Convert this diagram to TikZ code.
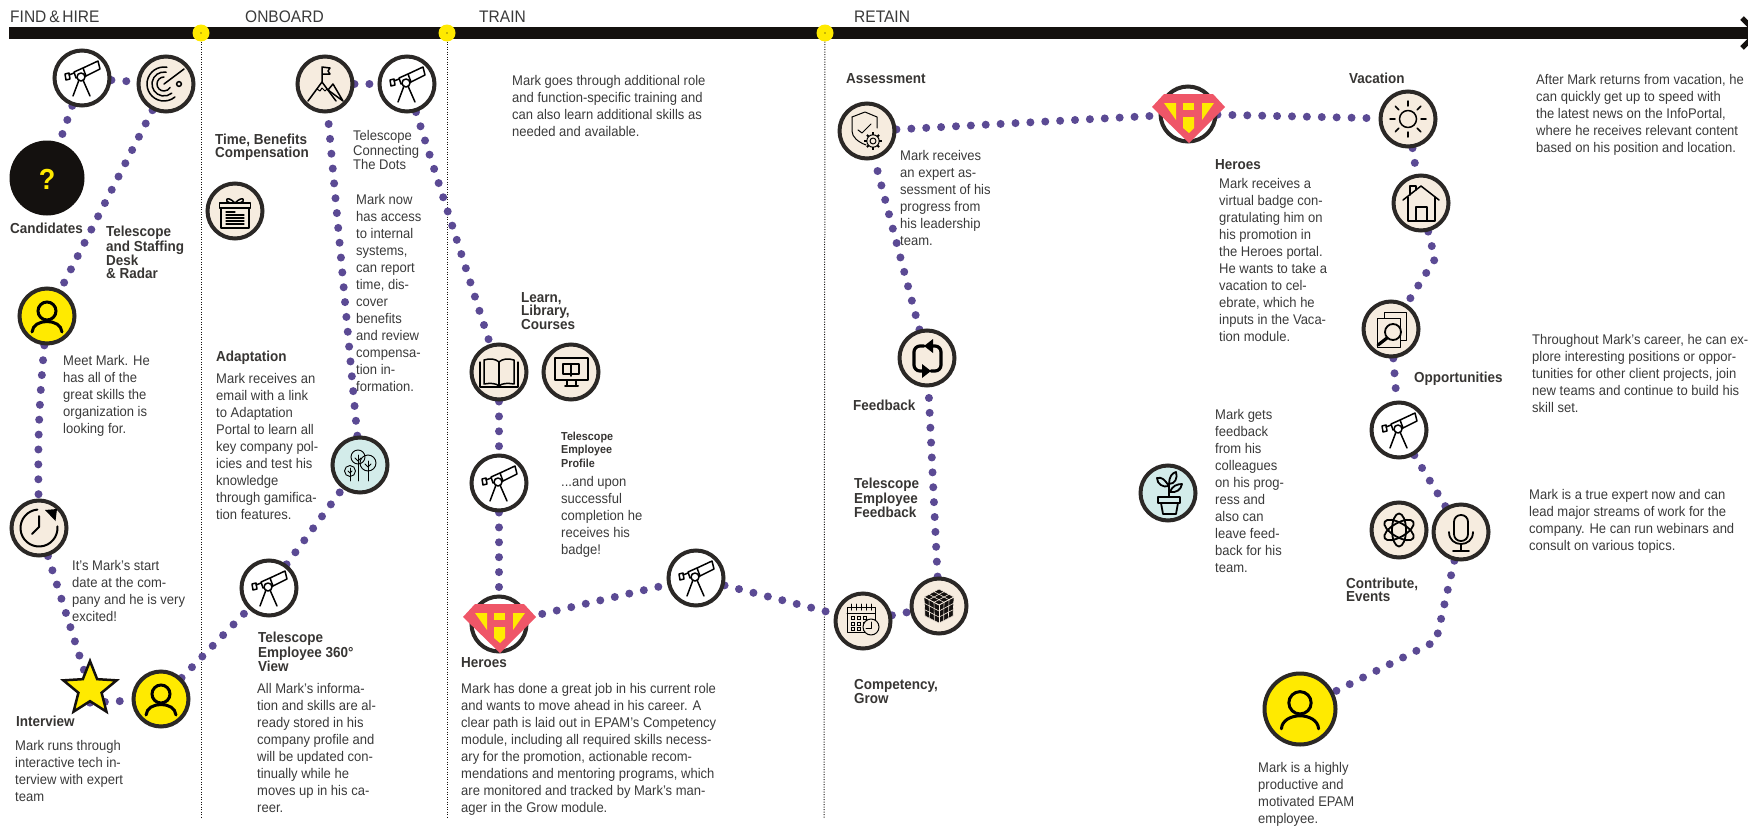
\documentclass[tikz,border=0pt]{standalone}
\usepackage{fontspec}
\setmainfont[FakeStretch=0.93]{Liberation Sans}
\usetikzlibrary{shapes.geometric,backgrounds}
\definecolor{markYellow}{HTML}{FFEA00}
\definecolor{markCream}{HTML}{F6ECDF}
\definecolor{markTeal}{HTML}{D3ECEA}
\definecolor{markInk}{HTML}{14110F}
\definecolor{markRing}{HTML}{2B2826}
\definecolor{markText}{HTML}{3A3A3A}
\definecolor{markPurple}{HTML}{5B4A94}
\definecolor{markRed}{HTML}{EF5668}
\tikzset{
  ring/.style={circle,draw=markRing,line width=4pt,minimum size=55pt,inner sep=0pt,fill=white},
  cream/.style={ring,fill=markCream},
  teal/.style={ring,fill=markTeal},
  gold/.style={ring,fill=markYellow},
  body/.style={anchor=north west,inner sep=0pt,align=left,text=markText,font=\fontsize{14}{17}\selectfont},
  head/.style={anchor=north west,inner sep=0pt,align=left,text=markInk!85!white,font=\bfseries\fontsize{14.5}{13}\selectfont},
  stage/.style={anchor=base west,inner sep=0pt,text=markText,font=\fontsize{16.7}{18}\selectfont},
  milestone/.style={circle,fill=markYellow,minimum size=17pt,inner sep=0pt},
  trail/.style={draw=markPurple,line width=8pt,line cap=round,dash pattern=on 0pt off 14.9pt},
  fence/.style={draw=markInk,line width=1pt,dash pattern=on 1pt off 1.5pt},
  icon/.style={line width=1.5pt,line cap=round,line join=round},
  pics/telescope/.style={code={
    \draw[icon] (1,-10) -- (16,-17) -- (18,-9) -- (4,-2) -- cycle;
    \draw[icon] (1,-10) -- (-8,-6) -- (-6,0) -- (4,-2);
    \draw[icon] (-17,-4) -- (-13,-5) -- (-12,1) -- (-16,2) -- cycle;
    \draw[icon] (-13,-3) -- (-8,-5);
    \draw[icon,fill=white] (-1,-1) circle[radius=4pt];
    \draw[icon] (-3,2) -- (-9,18);
    \draw[icon] (1,2) -- (8,18);
  }},
  pics/radar/.style={code={
    \draw[icon] ([shift={(80:17pt)}]-2,0) arc[start angle=80,end angle=310,radius=17pt];
    \draw[icon] ([shift={(80:12pt)}]-2,0) arc[start angle=80,end angle=310,radius=12pt];
    \draw[icon] ([shift={(90:7pt)}]-2,0) arc[start angle=90,end angle=330,radius=7pt];
    \draw[icon] (-2,0) -- (18,-15);
    \draw[icon] (13,0) circle[radius=2.4pt];
  }},
  pics/person/.style={code={
    \draw[line width=3pt,line cap=round] (0,-5) circle[radius=9pt];
    \draw[line width=3pt,line cap=round] (-15,16) .. controls (-14,2) and (14,2) .. (15,16);
  }},
  pics/clock/.style={code={
    \draw[icon,line width=2pt] ([shift={(95:18.5pt)}]0,0) arc[start angle=95,end angle=365,radius=18.5pt];
    \draw[icon,line width=2pt] (0,-12) -- (0,-1) -- (-7,6);
    \fill (6,-18) -- (18,-19) -- (16.5,-7) -- cycle;
  }},
  pics/question/.style={code={
    \node[inner sep=0pt,text=markYellow,font=\bfseries\fontsize{29}{29}\selectfont] (Ask) at (0,1) {?};
  }},
  pics/gift/.style={code={
    \draw[icon] (-14,-3) rectangle (14,17);
    \draw[icon] (-15.5,-8) rectangle (15.5,-3);
    \draw[icon] (0,-8) .. controls (-9,-17) and (-11,-9) .. (-5,-8);
    \draw[icon] (0,-8) .. controls (9,-17) and (11,-9) .. (5,-8);
    \draw[icon,line width=1.2pt] (-9,1) -- (0,1);
    \foreach \y in {4,7,10,13} {\draw[icon,line width=1.2pt] (-9,\y) -- (9,\y);}
  }},
  pics/mountain/.style={code={
    \draw[icon] (-17,17) -- (-3,-2) -- (11,17);
    \draw[icon] (3,6) -- (8,0) -- (18,17) -- cycle;
    \draw[icon] (-3,-2) -- (-3,-17) -- (5,-16) -- (3,-13) -- (5,-10) -- (-3,-10);
    \draw[icon,line width=1pt] (-8,5) -- (-5,7) -- (-3,4) -- (0,7) -- (2,5);
  }},
  pics/trees/.style={code={
    \draw[icon,line width=.9pt] (-2,-8) circle[radius=7pt];
    \draw[icon,line width=.9pt] (8,-2) circle[radius=8pt];
    \draw[icon,line width=.9pt] (-10,6) circle[radius=5.5pt];
    \draw[icon,line width=.9pt] (-2,-10) -- (-2,16);
    \draw[icon,line width=.9pt] (8,-4) -- (8,16);
    \draw[icon,line width=.9pt] (-10,3) -- (-10,16);
    \draw[icon,line width=.9pt] (-5,-7) -- (-2,-4) -- (1,-7);
    \draw[icon,line width=.9pt] (5,-1) -- (8,2) -- (11,-1);
    \draw[icon,line width=.9pt] (-12,6) -- (-10,8) -- (-8,6);
  }},
  pics/book/.style={code={
    \draw[icon,line width=1.2pt] (-19,-10) -- (-19,15) -- (19,15) -- (19,-10);
    \draw[icon] (-15,-12) .. controls (-9,-14) and (-3,-13) .. (0,-10) .. controls (3,-13) and (9,-14) .. (15,-12) -- (15,12) .. controls (9,11) and (3,11) .. (0,14) .. controls (-3,11) and (-9,11) .. (-15,12) -- cycle;
    \draw[icon] (0,-10) -- (0,14);
  }},
  pics/monitor/.style={code={
    \draw[icon,line width=2pt] (-16.5,-14) rectangle (17,8);
    \draw[icon,line width=2pt] (-4,8) -- (-4,14);
    \draw[icon,line width=2pt] (5,8) -- (5,14);
    \draw[icon,line width=2pt] (-6,14) -- (7,14);
    \draw[icon,line width=1.6pt] (-8,-8) rectangle (8,2);
    \draw[icon,line width=1.6pt] (0,-8) -- (0,4);
  }},
  pics/shield/.style={code={
    \draw[icon,line width=1pt] (-15,-14) -- (-2,-19) -- (10,-14) -- (10,-3);
    \draw[icon,line width=1pt] (-15,-14) -- (-15,0) .. controls (-15,6) and (-9,11) .. (-1,14);
    \draw[icon,line width=1pt] (-9,-1) -- (-5,2) -- (4,-7);
    \draw[icon,line width=1pt,fill=markCream] (6,10) circle[radius=6.2pt];
    \draw[icon,line width=1pt] (6,10) circle[radius=3pt];
    \foreach \a in {0,45,...,315} {\draw[line width=1.9pt,shift={(6,10)}] (\a:6.2pt) -- (\a:8.6pt);}
  }},
  pics/sync/.style={code={
    \draw[line width=3.2pt,line cap=round,rounded corners=6pt] (-3,-12) -- (-13,-12) -- (-13,13) -- (-3,13);
    \draw[line width=3.2pt,line cap=round,rounded corners=6pt] (3,-12) -- (14,-12) -- (14,13) -- (4,13);
    \fill (6,-19) -- (-3,-12) -- (6,-5) -- cycle;
    \fill (-5,6) -- (4,13) -- (-5,20) -- cycle;
  }},
  pics/calendar/.style={code={
    \draw[icon,line width=1pt] (-16,-14) rectangle (12,11);
    \draw[icon,line width=1pt] (-16,-8) -- (12,-8);
    \foreach \x in {-12,-7,-2,3,8} {\draw[icon,line width=1pt] (\x,-17) -- (\x,-11);}
    \foreach \x in {-12,-6,0} \foreach \y in {-5,1,6} {\draw[line width=.9pt] (\x,\y) rectangle ++(3,3);}
    \draw[icon,line width=1pt,fill=markCream] (8,6) circle[radius=8pt];
    \draw[icon,line width=1pt] (8,1) -- (8,7) -- (3,7);
  }},
  pics/cube/.style={code={
    \fill[markInk] (0,-17) -- (15,-9) -- (14,10) -- (0,17) -- (-14,10) -- (-15,-9) -- cycle;
    \foreach \t in {0,.333,.667,1} {
      \draw[markCream,line width=.6pt] ({-15+15*\t},{-9+8*\t}) -- ({0+15*\t},{-17+8*\t});
      \draw[markCream,line width=.6pt] ({-15+15*\t},{-9-8*\t}) -- ({0+15*\t},{-1-8*\t});
      \draw[markCream,line width=.6pt] ({-15+15*\t},{-9+8*\t}) -- ({-14+14*\t},{10+7*\t});
      \draw[markCream,line width=.6pt] ({0+15*\t},{-1-8*\t}) -- ({0+14*\t},{17-7*\t});
      \draw[markCream,line width=.6pt] ({-15+1*\t},{-9+19*\t}) -- ({0},{-1+18*\t});
      \draw[markCream,line width=.6pt] ({0},{-1+18*\t}) -- ({15-1*\t},{-9+19*\t});
    }
  }},
  pics/sun/.style={code={
    \draw[icon] (0,0) circle[radius=8.5pt];
    \foreach \a in {0,45,...,315} {\draw[icon] (\a:13pt) -- (\a:18pt);}
  }},
  pics/house/.style={code={
    \draw[icon] (-18,-3) -- (0,-17) -- (18,-3);
    \draw[icon] (-13,-6) -- (-13,18) -- (14,18) -- (14,-6);
    \draw[icon] (-5,18) -- (-5,4) -- (6,4) -- (6,18);
    \draw[icon] (-11,-8) -- (-11,-17) -- (-5,-17) -- (-5,-13);
  }},
  pics/docs/.style={code={
    \draw[icon,line width=1pt] (-7,-17) rectangle (15,11);
    \draw[icon,line width=1pt,fill=markCream] (-14,-11) rectangle (9,18);
    \draw[icon,fill=markCream,line width=1.8pt] (2,3) circle[radius=8pt];
    \draw[line width=3.2pt,line cap=round] (-4,9) -- (-13,16);
  }},
  pics/atom/.style={code={
    \draw[icon,line width=1.8pt,rotate=30] (0,0) ellipse[x radius=16.5pt,y radius=7pt];
    \draw[icon,line width=1.8pt,rotate=90] (0,0) ellipse[x radius=16.5pt,y radius=7pt];
    \draw[icon,line width=1.8pt,rotate=150] (0,0) ellipse[x radius=16.5pt,y radius=7pt];
  }},
  pics/mic/.style={code={
    \draw[icon,line width=1.8pt,rounded corners=6.8pt] (-7,-17) rectangle (7,9);
    \draw[icon,line width=1.8pt] (-12,0) .. controls (-12,16) and (12,16) .. (12,0);
    \draw[icon,line width=1.8pt] (0,12) -- (0,19);
    \draw[icon,line width=1.8pt] (-8,19) -- (8,19);
  }},
  pics/plant/.style={code={
    \draw[icon,line width=1.8pt] (-10,4) rectangle (12,10);
    \draw[icon,line width=1.8pt] (-7,10) -- (-5,21) -- (8,21) -- (10,10);
    \draw[icon,line width=1.8pt] (1,4) -- (1,-9);
    \draw[icon,line width=1.8pt] (1,-7) .. controls (-4,-14) and (-6,-16) .. (-11,-15) .. controls (-11,-9) and (-5,-5) .. (1,-7);
    \draw[icon,line width=1.8pt] (1,-9) .. controls (1,-16) and (4,-20) .. (8,-21) .. controls (10,-15) and (7,-9) .. (1,-9);
    \draw[icon,line width=1.8pt] (2,-1) .. controls (4,-7) and (9,-9) .. (14,-9) .. controls (13,-3) and (8,0) .. (2,-1);
  }},
  pics/badge/.style={code={
    \fill[markRed] (-36,-7) -- (-24,-20) -- (25,-20) -- (37,-7) -- (1,29) -- cycle;
    \fill[markYellow] (-24,-11) -- (-12,-11) -- (-12,6) -- cycle;
    \fill[markYellow] (14,-11) -- (26,-11) -- (14,6) -- cycle;
    \fill[markYellow] (-5,-11) rectangle (6,-4);
    \fill[markYellow] (-5,3) -- (6,3) -- (6,14) -- (1,19) -- (-5,14) -- cycle;
  }},
}

\begin{document}
\begin{tikzpicture}[x=1pt,y=-1pt]
  \useasboundingbox (0,0) rectangle (1748,827);

  \coordinate (BarL) at (9,33);
  \coordinate (BarR) at (1748,33);
  \draw[draw=markInk,line width=12pt] (BarL) -- (BarR);
  \draw[draw=markInk,line width=5pt] (1742,18) -- (1757,33) -- (1742,48);

  \node[milestone] (M1) at (201,33) {};
  \node[milestone] (M2) at (447,33) {};
  \node[milestone] (M3) at (825,33) {};
  \coordinate (B1) at (201,818);
  \coordinate (B2) at (447,818);
  \coordinate (B3) at (824,818);
  \foreach \m in {M1,M2,M3} {\fill[markInk] (\m) circle[radius=.7pt];}

  \node[stage] (FindL) at (10,22) {FIND\hspace{.17em}\&\hspace{.17em}HIRE};
  \node[stage] (BoardL) at (245,22) {ONBOARD};
  \node[stage] (TrainL) at (479,22) {TRAIN};
  \node[stage] (KeepL) at (854,22) {RETAIN};

  \node[ring] (Tel1) at (82,78) {};
  \node[cream] (Radar) at (166,84) {};
  \node[circle,fill=markInk,minimum size=75pt,inner sep=0pt] (Cand) at (47,178) {};
  \node[gold] (Mark1) at (47,316) {};
  \node[cream] (Clock) at (39,528) {};
  \node[star,star points=5,star point ratio=2.3,draw=markInk,fill=markYellow,line width=2.5pt,minimum size=56pt,inner sep=0pt] (Star) at (90,689) {};
  \node[gold] (Mark2) at (161,699) {};
  \node[ring] (Tel2) at (269,588) {};
  \node[teal] (Trees) at (360,465) {};
  \node[cream] (Gift) at (235,211) {};
  \node[cream] (Peak) at (325,84) {};
  \node[ring] (Tel3) at (407,84) {};
  \node[cream] (Book) at (499,372) {};
  \node[cream] (Screen) at (571,372) {};
  \node[ring] (Tel4) at (499,483) {};
  \node[ring] (Hero1) at (499,624) {};
  \node[ring] (Tel5) at (696,578) {};
  \node[cream] (Cal) at (863,621) {};
  \node[cream] (Cube) at (939,606) {};
  \node[cream] (Sync) at (927,358) {};
  \node[cream] (Shield) at (867,131) {};
  \node[ring] (Hero2) at (1188,114) {};
  \node[cream] (Sun) at (1408,119) {};
  \node[cream] (House) at (1421,203) {};
  \node[cream] (Docs) at (1391,329) {};
  \node[ring] (Tel6) at (1399,430) {};
  \node[cream] (Atom) at (1399,530) {};
  \node[cream] (Mic) at (1461,532) {};
  \node[gold,minimum size=71pt] (Mark3) at (1300,709) {};
  \node[teal] (Plant) at (1168,493) {};

  \pic at (Tel1) {telescope};
  \pic at (Radar) {radar};
  \pic at (Cand) {question};
  \pic at (Mark1) {person};
  \pic at (Clock) {clock};
  \pic at (Mark2) {person};
  \pic at (Tel2) {telescope};
  \pic at (Trees) {trees};
  \pic at (Gift) {gift};
  \pic at (Peak) {mountain};
  \pic at (Tel3) {telescope};
  \pic at (Book) {book};
  \pic at (Screen) {monitor};
  \pic at (Tel4) {telescope};
  \pic at (Hero1) {badge};
  \pic at (Tel5) {telescope};
  \pic at (Cal) {calendar};
  \pic at (Cube) {cube};
  \pic at (Sync) {sync};
  \pic at (Shield) {shield};
  \pic at (Hero2) {badge};
  \pic at (Sun) {sun};
  \pic at (House) {house};
  \pic at (Docs) {docs};
  \pic at (Tel6) {telescope};
  \pic at (Atom) {atom};
  \pic at (Mic) {mic};
  \pic[scale=1.24] at (Mark3) {person};
  \pic at (Plant) {plant};

  \node[head] (CandL) at (10,223) {Candidates};
  \node[head] (DeskL) at (106,226) {Telescope\\and Staffing\\Desk\\\& Radar};
  \node[body] (MeetT) at (63,355) {Meet Mark. He\\has all of the\\great skills the\\organization is\\looking for.};
  \node[body] (StartT) at (72,560) {It’s Mark’s start\\date at the com-\\pany and he is very\\excited!};
  \node[head] (TalkL) at (16,716) {Interview};
  \node[body] (TalkT) at (15,740) {Mark runs through\\interactive tech in-\\terview with expert\\team};
  \node[head] (TimeL) at (215,134) {Time, Benefits\\Compensation};
  \node[head] (AdaptL) at (216,351) {Adaptation};
  \node[body] (AdaptT) at (216,373) {Mark receives an\\email with a link\\to Adaptation\\Portal to learn all\\key company pol-\\icies and test his\\knowledge\\through gamifica-\\tion features.};
  \node[head] (ViewL) at (258,632) {Telescope\\Employee 360°\\View};
  \node[body] (ViewT) at (257,683) {All Mark’s informa-\\tion and skills are al-\\ready stored in his\\company profile and\\will be updated con-\\tinually while he\\moves up in his ca-\\reer.};
  \node[body,font=\fontsize{14}{14.7}\selectfont] (DotsL) at (353,130) {Telescope\\Connecting\\The Dots};
  \node[body] (DotsT) at (356,194) {Mark now\\has access\\to internal\\systems,\\can report\\time, dis-\\cover\\benefits\\and review\\compensa-\\tion in-\\formation.};
  \node[body] (RoleT) at (512,75) {Mark goes through additional role\\and function-specific training and\\can also learn additional skills as\\needed and available.};
  \node[head] (LearnL) at (521,292) {Learn,\\Library,\\Courses};
  \node[head,font=\bfseries\fontsize{11.6}{13.3}\selectfont] (ProfileL) at (561,432) {Telescope\\Employee\\Profile};
  \node[body] (ProfileT) at (561,476) {...and upon\\successful\\completion he\\receives his\\badge!};
  \node[head] (Hero1L) at (461,657) {Heroes};
  \node[body] (Hero1T) at (461,683) {Mark has done a great job in his current role\\and wants to move ahead in his career. A\\clear path is laid out in EPAM’s Competency\\module, including all required skills necess-\\ary for the promotion, actionable recom-\\mendations and mentoring programs, which\\are monitored and tracked by Mark’s man-\\ager in the Grow module.};
  \node[head] (AssessL) at (846,73) {Assessment};
  \node[body] (AssessT) at (900,150) {Mark receives\\an expert as-\\sessment of his\\progress from\\his leadership\\team.};
  \node[head] (BackL) at (853,400) {Feedback};
  \node[head] (PeerL) at (854,478) {Telescope\\Employee\\Feedback};
  \node[head] (GrowL) at (854,679) {Competency,\\Grow};
  \node[head] (Hero2L) at (1215,159) {Heroes};
  \node[body] (Hero2T) at (1219,178) {Mark receives a\\virtual badge con-\\gratulating him on\\his promotion in\\the Heroes portal.\\He wants to take a\\vacation to cel-\\ebrate, which he\\inputs in the Vaca-\\tion module.};
  \node[body] (PeerT) at (1215,409) {Mark gets\\feedback\\from his\\colleagues\\on his prog-\\ress and\\also can\\leave feed-\\back for his\\team.};
  \node[head] (RestL) at (1349,73) {Vacation};
  \node[body] (RestT) at (1536,74) {After Mark returns from vacation, he\\can quickly get up to speed with\\the latest news on the InfoPortal,\\where he receives relevant content\\based on his position and location.};
  \node[head] (OppL) at (1414,372) {Opportunities};
  \node[body] (OppT) at (1532,334) {Throughout Mark’s career, he can ex-\\plore interesting positions or oppor-\\tunities for other client projects, join\\new teams and continue to build his\\skill set.};
  \node[body] (ExpertT) at (1529,489) {Mark is a true expert now and can\\lead major streams of work for the\\company. He can run webinars and\\consult on various topics.};
  \node[head] (EventL) at (1346,578) {Contribute,\\Events};
  \node[body] (EndT) at (1258,762) {Mark is a highly\\productive and\\motivated EPAM\\employee.};

  \coordinate (HouseBend) at (1435,259);
  \coordinate (MicBend) at (1436,641);
  \begin{scope}[on background layer]
    \draw[fence] (M1) -- (B1);
    \draw[fence] (M2) -- (B2);
    \draw[fence] (M3) -- (B3);
    \draw[trail] (Tel1) -- (Radar);
    \draw[trail] (Tel1) -- (Cand);
    \draw[trail] (Radar) -- (Mark1);
    \draw[trail] (Mark1) to[bend right=3] (Clock);
    \draw[trail] (Clock) -- (Star);
    \draw[trail] (Star.south) -- (Mark2);
    \draw[trail] (Mark2) -- (Tel2);
    \draw[trail] (Tel2) -- (Trees);
    \draw[trail] (Trees) -- (Peak);
    \draw[trail] (Peak) -- (Tel3);
    \draw[trail] (Tel3) -- (Book);
    \draw[trail] (Book) -- (Tel4);
    \draw[trail] (Tel4) -- (Hero1);
    \draw[trail] (Hero1) -- (Tel5);
    \draw[trail] (Tel5) -- (Cal);
    \draw[trail] (Cal) -- (Cube);
    \draw[trail] (Cube) -- (Sync);
    \draw[trail] (Sync) -- (Shield);
    \draw[trail] (Shield) -- (Hero2);
    \draw[trail] (Hero2) -- (Sun);
    \draw[trail] (Sun) -- (House);
    \draw[trail] (House) -- (HouseBend) -- (Docs);
    \draw[trail] (Docs) -- (Tel6);
    \draw[trail] (Tel6) -- (Mic);
    \draw[trail] (Mic) -- (MicBend) -- (Mark3);
  \end{scope}
\end{tikzpicture}
\end{document}
